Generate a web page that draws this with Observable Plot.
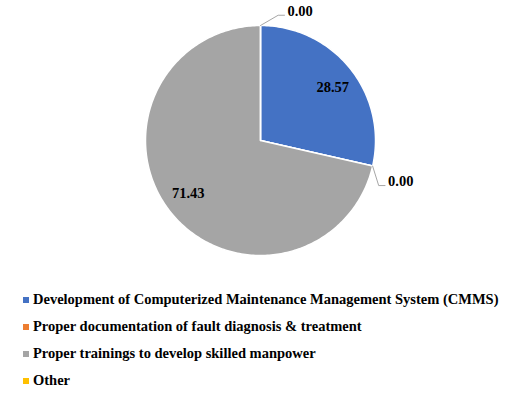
<!DOCTYPE html>
<html><head><meta charset="utf-8">
<script src="https://cdn.jsdelivr.net/npm/d3@7"></script>
<script src="https://cdn.jsdelivr.net/npm/@observablehq/plot@0.6"></script>
<style>
body{margin:0;background:#fff;font-family:"Liberation Serif","Times New Roman",serif;}
#chart{position:absolute;left:0;top:0;}
#legend{position:absolute;left:23px;top:286px;}
.item{display:flex;align-items:center;height:27px;font-weight:bold;font-size:14.5px;color:#000;white-space:nowrap;}
.sw{width:6px;height:6px;margin-right:4px;flex:none;}
</style></head><body><div id="chart"></div><div id="legend"></div>
<script>
const categories = [
  "Development of Computerized Maintenance Management System (CMMS)",
  "Proper documentation of fault diagnosis & treatment",
  "Proper trainings to develop skilled manpower",
  "Other"
];
const values = [28.57, 0.00, 71.43, 0.00];
const labels = ["28.57", "0.00", "71.43", "0.00"];
const colors = ["#4472C4", "#ED7D31", "#A5A5A5", "#FFC000"];

const arcs = d3.pie().sort(null)(values);
const pt = (a, r) => ({x: Math.sin(a) * r, y: Math.cos(a) * r});

// slice outlines (geometry sampled along each arc)
const slicePts = [];
arcs.forEach((d, i) => {
  const cat = categories[i];
  slicePts.push({cat, ...pt(0, 0)});
  const n = Math.max(1, Math.ceil((d.endAngle - d.startAngle) / (Math.PI / 180)));
  for (let k = 0; k <= n; k++) {
    const a = d.startAngle + (d.endAngle - d.startAngle) * k / n;
    slicePts.push({cat, ...pt(a, 1)});
  }
});

const inside = [], outside = [], leaders = [];
arcs.forEach((d, i) => {
  const mid = (d.startAngle + d.endAngle) / 2;
  if (values[i] > 0) {
    inside.push({text: labels[i], ...pt(mid + 0.04, 0.78)});
  } else {
    const a = d.startAngle % (2 * Math.PI);
    const p0 = pt(a, 1), p1 = pt(a + 0.14, 1.1);
    const p2 = {x: p1.x + 0.055, y: p1.y};
    leaders.push({cat: categories[i], ...p0}, {cat: categories[i], ...p1}, {cat: categories[i], ...p2});
    outside.push({text: labels[i], ...p2});
  }
});

const chart = Plot.plot({
  width: 516, height: 286, margin: 0,
  x: {domain: [-1, 1], range: [145, 375], axis: null},
  y: {domain: [-1, 1], range: [255, 25], axis: null},
  color: {domain: categories, range: colors},
  style: {fontFamily: "'Liberation Serif', 'Times New Roman', serif", background: "white"},
  marks: [
    Plot.line(slicePts, {x: "x", y: "y", z: "cat", fill: "cat", stroke: "white", strokeWidth: 1.5, curve: "linear-closed"}),
    Plot.line(leaders, {x: "x", y: "y", z: "cat", stroke: "#A6A6A6", strokeWidth: 1}),
    Plot.text(inside, {x: "x", y: "y", text: "text", fontWeight: "bold", fontSize: 14.5, fill: "black"}),
    Plot.text(outside, {x: "x", y: "y", text: "text", fontWeight: "bold", fontSize: 14.5, fill: "black", textAnchor: "start", dx: 3, dy: -4})
  ]
});
document.getElementById("chart").append(chart);

const color = chart.scale("color");
const legend = document.getElementById("legend");
categories.forEach(c => {
  const it = document.createElement("div");
  it.className = "item";
  const sw = document.createElement("span");
  sw.className = "sw";
  sw.style.background = color.apply(c);
  const t = document.createElement("span");
  t.textContent = c;
  it.append(sw, t);
  legend.append(it);
});
</script></body></html>
